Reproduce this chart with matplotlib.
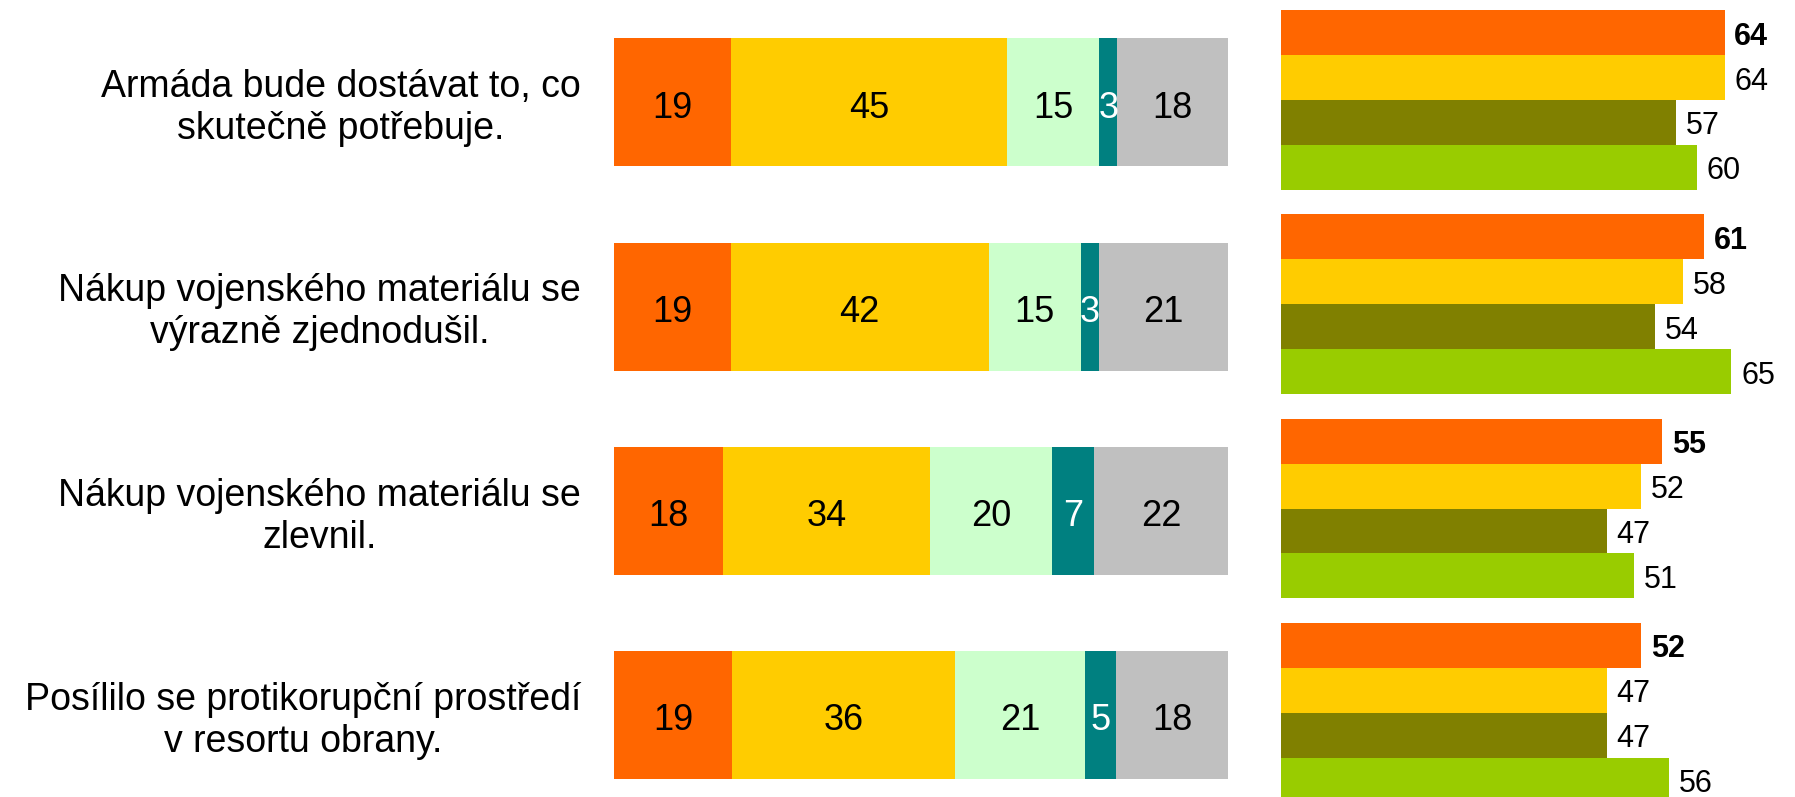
import matplotlib
matplotlib.use("Agg")
import matplotlib.pyplot as plt
import matplotlib.transforms as mtransforms
import numpy as np

plt.rcParams['font.family'] = ['Liberation Sans', 'DejaVu Sans']

categories = [
    "Armáda bude dostávat to, co\nskutečně potřebuje.",
    "Nákup vojenského materiálu se\nvýrazně zjednodušil.",
    "Nákup vojenského materiálu se\nzlevnil.",
    "Posílilo se protikorupční prostředí\nv resortu obrany.",
]

# stacked answer shares
seg_a = [19, 19, 18, 19]
seg_b = [45, 42, 34, 36]
seg_c = [15, 15, 20, 21]
seg_d = [3, 3, 7, 5]
seg_e = [18, 21, 22, 18]
seg_colors = ["#FF6600", "#FFCC00", "#CCFFCC", "#008080", "#C0C0C0"]
seg_text_colors = ["black", "black", "black", "white", "black"]

# grouped comparison values
grp_1 = [64, 61, 55, 52]
grp_2 = [64, 58, 52, 47]
grp_3 = [57, 54, 47, 47]
grp_4 = [60, 65, 51, 56]
grp_colors = ["#FF6600", "#FFCC00", "#808000", "#99CC00"]

W, H = 1795, 797
fig = plt.figure(figsize=(W / 100, H / 100), dpi=100)

ylim = (3.412, -0.489)

# left stacked axis
axL = fig.add_axes([614 / W, 0, 614 / W, 1])
axL.set_xlim(0, 100)
axL.set_ylim(*ylim)
axL.axis("off")

segs = np.array([seg_a, seg_b, seg_c, seg_d, seg_e], dtype=float)
totals = segs.sum(axis=0)
norm = segs / totals * 100
y = np.arange(len(categories))
ybar = y + 0.012
left = np.zeros(len(categories))
for i in range(segs.shape[0]):
    axL.barh(ybar, norm[i], left=left, height=0.627, color=seg_colors[i], linewidth=0)
    for j in range(len(categories)):
        axL.text(left[j] + norm[i][j] / 2, y[j] + 0.04,
                 f"{int(segs[i][j])}", ha="center", va="center",
                 fontsize=26, color=seg_text_colors[i])
    left += norm[i]

# category labels
tr = mtransforms.blended_transform_factory(fig.transFigure, axL.transData)
for j, lab in enumerate(categories):
    axL.text(581 / W, y[j] + 0.04, lab, transform=tr, ha="right", va="center",
             multialignment="center", fontsize=27, linespacing=1.22)

# right grouped axis
axR = fig.add_axes([1281 / W, 0, 514 / W, 1])
axR.set_xlim(0, 514 / 6.93)
axR.set_ylim(*ylim)
axR.axis("off")
groups = [grp_1, grp_2, grp_3, grp_4]
bh = 0.22
offsets = [-0.33, -0.11, 0.11, 0.33]
for k, vals in enumerate(groups):
    axR.barh(y + offsets[k], vals, height=bh, color=grp_colors[k], linewidth=0)
    for j, v in enumerate(vals):
        axR.text(v + 1.4, y[j] + offsets[k] + 0.02, f"{v}", ha="left", va="center",
                 fontsize=22, fontweight="bold" if k == 0 else "normal")

fig.savefig("out.png", dpi=100)
